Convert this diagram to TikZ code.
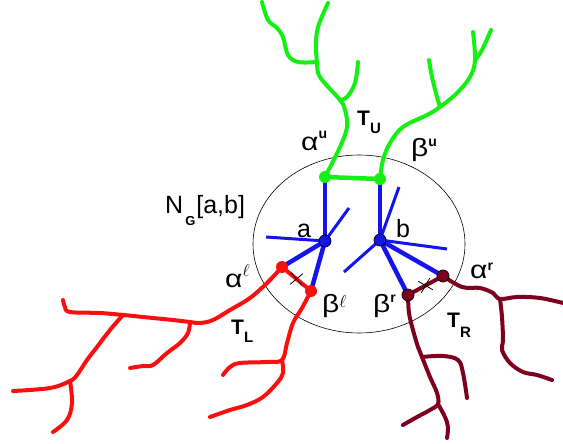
\documentclass[tikz,border=0pt]{standalone}
\usepackage{fontspec}
\setmainfont{Liberation Sans}
\usetikzlibrary{shapes.misc,shapes.geometric,calc}
\definecolor{gr}{RGB}{20,240,20}
\definecolor{rd}{RGB}{250,15,15}
\definecolor{dr}{RGB}{125,0,30}
\definecolor{bl}{RGB}{20,20,235}
\newcommand{\gk}[1]{\scalebox{1.2}[1]{#1}}
\newcommand{\sps}[2]{\raisebox{#1}{\fontsize{14}{14}\selectfont\bfseries #2}}
\newcommand{\sbs}[2]{\raisebox{#1}{\fontsize{15}{15}\selectfont\bfseries #2}}
\begin{document}
\begin{tikzpicture}[x=1pt,y=-1pt,
  branch/.style={line width=4pt, line cap=round, line join=round},
  thickedge/.style={bl, line width=4.5pt},
  thinedge/.style={bl, line width=3pt},
  dot/.style={circle, inner sep=0pt, minimum size=12pt},
  lab/.style={font=\fontsize{25}{25}\selectfont, inner sep=0pt, anchor=base west},
  tlab/.style={font=\fontsize{21}{21}\selectfont\bfseries, inner sep=0pt, anchor=base west},
  xmark/.style={cross out, draw=black, line width=0.8pt, minimum size=11pt, inner sep=0pt}]
\useasboundingbox (0,0) rectangle (563,444);
% neighbourhood ellipse
\node[draw=black, line width=0.6pt, ellipse, minimum width=212pt, minimum height=178pt, inner sep=0pt] (ell) at (359,244) {};
% dot positions
\coordinate (au) at (325,177);
\coordinate (bu) at (380,179);
\coordinate (a) at (325,241);
\coordinate (b) at (380,240);
\coordinate (al) at (282,267);
\coordinate (bl) at (311,291);
\coordinate (br) at (408,295);
\coordinate (ar) at (443,276);
% branch points
\coordinate (g1) at (340,100);
\coordinate (g2) at (317,62);
\coordinate (g3) at (440,107);
\coordinate (g4) at (475,60);
\coordinate (r1) at (190,322);
\coordinate (r2) at (123,315);
\coordinate (r3) at (70,381);
\coordinate (r4) at (282,360);
\coordinate (d1) at (422,357);
\coordinate (d2) at (438,404);
\coordinate (d3) at (500,299);
% green tree
\draw[branch, gr] plot[smooth, tension=0.6] coordinates {(au) (340,147) (347,127) (345,110) (g1) (320,77) (g2) (316,45) (318,27) (328,3)};
\draw[branch, gr] plot[smooth, tension=0.6] coordinates {(g2) (298,62) (288,55) (283,37) (277,28) (268,20) (262,2)};
\draw[branch, gr] plot[smooth, tension=0.6] coordinates {(g1) (347,97) (355,83) (358,62)};
\draw[branch, gr] plot[smooth, tension=0.6] coordinates {(bu) (383,160) (390,143) (403,127) (427,115) (g3) (457,93) (470,77) (g4) (473,32)};
\draw[branch, gr] plot[smooth, tension=0.6] coordinates {(g4) (482,50) (491,30)};
\draw[branch, gr] plot[smooth, tension=0.6] coordinates {(g3) (437,97) (432,77) (429,60)};
% red tree
\draw[branch, rd] plot[smooth, tension=0.6] coordinates {(al) (267,283) (250,298) (230,310) (213,320) (200,323) (r1) (173,320) (163,319) (143,317) (r2) (100,313) (70,312) (65,307) (63,300)};
\draw[branch, rd] plot[smooth, tension=0.6] coordinates {(r1) (188,333) (180,343) (167,353) (153,365) (143,366) (130,368)};
\draw[branch, rd] plot[smooth, tension=0.6] coordinates {(r2) (110,330) (97,347) (87,360) (77,375) (r3) (50,388) (13,391)};
\draw[branch, rd] plot[smooth, tension=0.6] coordinates {(r3) (72,403) (67,420) (53,432)};
\draw[branch, rd] plot[smooth, tension=0.6] coordinates {(bl) (302,308) (293,323) (287,343) (r4) (267,362) (240,363) (230,367) (223,375)};
\draw[branch, rd] plot[smooth, tension=0.6] coordinates {(r4) (283,373) (277,383) (263,397) (247,405) (230,410) (210,417)};
% dark red tree
\draw[branch, dr] plot[smooth, tension=0.6] coordinates {(br) (409,313) (413,330) (418,347) (d1) (430,377) (437,393) (d2) (430,410) (417,417) (403,425)};
\draw[branch, dr] plot[smooth, tension=0.6] coordinates {(d1) (443,356) (458,360) (463,373) (467,398)};
\draw[branch, dr] plot[smooth, tension=0.6] coordinates {(d2) (445,417) (448,427) (447,438)};
\draw[branch, dr] plot[smooth, tension=0.6] coordinates {(ar) (462,287) (480,288) (493,293) (d3) (517,297) (540,298) (563,303)};
\draw[branch, dr] plot[smooth, tension=0.6] coordinates {(d3) (502,317) (503,340) (502,350) (510,363) (523,372) (537,375) (552,380)};
% cut edges between trees
\draw[branch, rd] (al) -- (bl);
\draw[branch, dr] (br) -- (ar);
% blue edges
\coordinate (a1) at (349,208);
\coordinate (a2) at (266,237);
\coordinate (b1) at (399,187);
\coordinate (b2) at (447,249);
\coordinate (b3) at (344,272);
\draw[thinedge] (a) -- (a1);
\draw[thinedge] (a) -- (a2);
\draw[thinedge] (b) -- (b1);
\draw[thinedge] (b) -- (b2);
\draw[thinedge] (b) -- (b3);
\draw[thickedge] (a) -- (au);
\draw[thickedge] (a) -- (al);
\draw[thickedge] (a) -- (bl);
\draw[thickedge] (b) -- (bu);
\draw[thickedge] (b) -- (br);
\draw[thickedge] (b) -- (ar);
% green bar
\draw[gr, line width=4.5pt] (au) -- (bu);
% dots
\node[dot, fill=gr] (nau) at (au) {};
\node[dot, fill=gr] (nbu) at (bu) {};
\node[dot, fill=bl, draw=black, line width=0.7pt] (na) at (a) {};
\node[dot, fill=bl, draw=black, line width=0.7pt] (nb) at (b) {};
\node[dot, fill=rd] (nal) at (al) {};
\node[dot, fill=rd] (nbl) at (bl) {};
\node[dot, fill=dr, draw=black, line width=0.7pt] (nbr) at (br) {};
\node[dot, fill=dr, draw=black, line width=0.7pt] (nar) at (ar) {};
% crosses
\node[xmark, rotate=-5] (x1) at ($(al)!0.5!(bl)$) {};
\node[xmark, rotate=15] (x2) at ($(br)!0.5!(ar)$) {};
% labels
\node[lab] (la) at (297,237) {a};
\node[lab] (lb) at (396,237) {b};
\node[lab] (ng) at (165,213) {N\hspace{2pt}\raisebox{-12pt}{\fontsize{13}{13}\selectfont\bfseries G}\hspace{1pt}[a,b]};
\node[lab] (lau) at (301,150) {\gk{α}\sps{12pt}{u}};
\node[lab] (lbu) at (411,157) {\gk{β}\sps{10pt}{u}};
\node[lab] (lal) at (225,287) {\gk{α}\raisebox{11pt}{\fontsize{17}{17}\selectfont$\ell$}};
\node[lab] (lbl) at (322,312) {\gk{β}\raisebox{5pt}{\fontsize{17}{17}\selectfont$\ell$}};
\node[lab] (lbr) at (373,312) {\gk{β}\sps{10pt}{r}};
\node[lab] (lar) at (470,278) {\gk{α}\sps{8pt}{r}};
\node[tlab] (tu) at (357,125) {T\sbs{-8pt}{U}};
\node[tlab] (tl) at (231,334) {T\sbs{-8pt}{L}};
\node[tlab] (tr) at (447,327) {T\sbs{-10pt}{R}};
\end{tikzpicture}
\end{document}
